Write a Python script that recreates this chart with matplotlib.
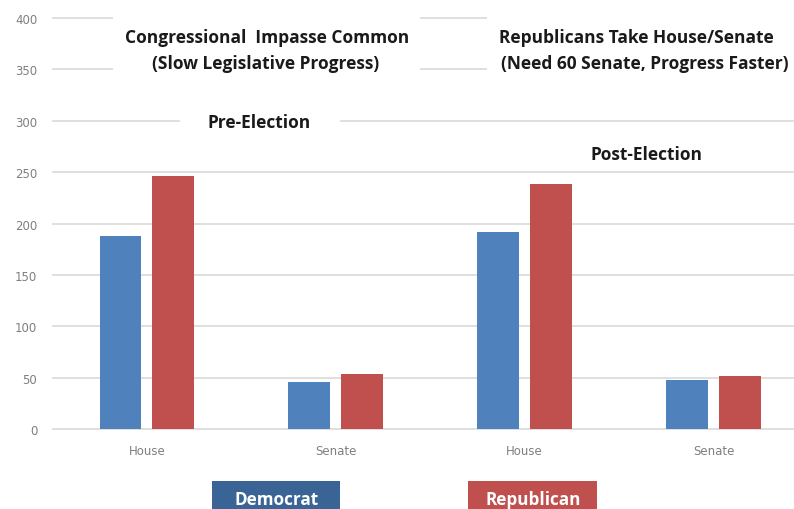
import matplotlib.pyplot as plt
from matplotlib.patches import Rectangle
import numpy as np

categories = ['House', 'Senate', 'House', 'Senate']
democrat = [188, 46, 192, 48]
republican = [246, 54, 238, 52]

blue = '#4F81BD'
red = '#C0504D'
grid_color = '#D9D9D9'
W, H = 794, 510

fig = plt.figure(figsize=(W / 100, H / 100), dpi=100)
ax = fig.add_axes([52.5 / W, 1 - 430 / H, 755.5 / W, 411 / H])

x = np.arange(len(categories))
ax.bar(x - 0.14, democrat, width=0.222, color=blue, zorder=2)
ax.bar(x + 0.14, republican, width=0.222, color=red, zorder=2)

ax.set_xlim(-0.5, 3.5)
ax.set_ylim(0, 400)
ax.set_yticks(range(0, 401, 50))
ax.set_xticks(x)
ax.set_xticklabels(categories)
ax.yaxis.grid(True, color=grid_color, linewidth=1.2)
for gl in ax.get_ygridlines():
    gl.set_clip_on(False)
ax.set_axisbelow(True)
for s in ax.spines.values():
    s.set_visible(False)
ax.tick_params(length=0, labelsize=8.5, labelcolor='#7f7f7f')
ax.tick_params(axis='x', pad=11)
ax.tick_params(axis='y', pad=11)


def fx(px):
    return px / W


def fy(py):
    return 1 - py / H


def blank(x0, y0, x1, y1, color='white'):
    fig.patches.append(Rectangle((fx(x0), fy(y1)), fx(x1 - x0), (y1 - y0) / H,
                                 transform=fig.transFigure, facecolor=color,
                                 edgecolor='none', zorder=5))


# white panels behind the annotations
blank(113, 12, 420, 84)
blank(180, 110, 340, 136)
blank(487, 12, 800, 84)

font = dict(family='Open Sans', weight='bold', color='#1a1a1a', zorder=6, fontsize=12.5)
fig.text(fx(267), fy(38), 'Congressional  Impasse Common', ha='center', va='center', **font)
fig.text(fx(266), fy(64), '(Slow Legislative Progress)', ha='center', va='center', **font)
fig.text(fx(636), fy(38), 'Republicans Take House/Senate', ha='center', va='center', **font)
fig.text(fx(645), fy(64), '(Need 60 Senate, Progress Faster)', ha='center', va='center', **font)
fig.text(fx(259), fy(123), 'Pre-Election', ha='center', va='center', **font)
fig.text(fx(647), fy(155), 'Post-Election', ha='center', va='center', **font)

# party key boxes along the bottom
blank(212, 482, 340, 515, '#3A6496')
blank(468, 482, 597, 515, red)
fig.text(fx(277), fy(500), 'Democrat', ha='center', va='center', fontsize=12.3,
         family='Open Sans', weight='bold', color='white', zorder=6)
fig.text(fx(533), fy(500), 'Republican', ha='center', va='center', fontsize=12.3,
         family='Open Sans', weight='bold', color='white', zorder=6)

fig.savefig('out.png', dpi=100)
